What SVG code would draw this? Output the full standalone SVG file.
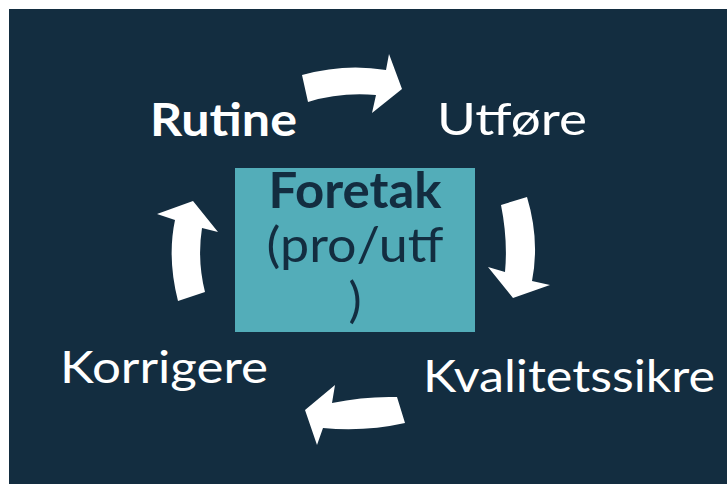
<svg xmlns="http://www.w3.org/2000/svg" width="727" height="485" viewBox="0 0 727 485">
  <style>
    .lbl { font-family: Lato, "Open Sans", "Liberation Sans", sans-serif; font-size: 45px; fill: #ffffff; }
    .bold { font-weight: bold; }
    .ctr { font-family: Lato, "Open Sans", "Liberation Sans", sans-serif; fill: #132d40; text-anchor: middle; }
    .arrow { fill: #ffffff; stroke: none; }
  </style>
  <rect x="0" y="0" width="727" height="485" fill="#ffffff"/>
  <rect id="background" x="9" y="9" width="718" height="475" fill="#132d40"/>

  <g id="connectors">
    <path class="arrow" d="M302,75 Q345,63 386,70 L389,54 L402,89 L372,113 L376,95 Q340,92 308,102 Z"/>
    <path class="arrow" d="M501,205 L527,197 Q540,240 532,281 L550,285 L513,298 L488,267 L505,272 Q508,240 501,205 Z"/>
    <path class="arrow" d="M397,397 Q365,396 332,403 L335,385 L305,410 L317,445 L323,428 Q365,432 405,423 Z"/>
    <path class="arrow" d="M178,301 Q167,258 175,220 L157,214 L193,201 L218,232 L202,228 Q197,260 205,292 Z"/>
  </g>

  <g id="node-foretak">
    <rect x="235" y="168" width="240" height="164" fill="#53adb9"/>
    <text class="ctr bold" x="355" y="208" font-size="49" textLength="173" lengthAdjust="spacingAndGlyphs">Foretak</text>
    <text class="ctr" x="355" y="262" font-size="49" textLength="177" lengthAdjust="spacingAndGlyphs">(pro/utf</text>
    <text class="ctr" x="355" y="317" font-size="49">)</text>
  </g>

  <g id="node-rutine">
    <text class="lbl bold" x="150" y="136" font-size="46" textLength="147" lengthAdjust="spacingAndGlyphs">Rutine</text>
  </g>
  <g id="node-utfore">
    <text class="lbl" x="437" y="135" textLength="150" lengthAdjust="spacingAndGlyphs">Utføre</text>
  </g>
  <g id="node-kvalitetssikre">
    <text class="lbl" x="423" y="392" textLength="292" lengthAdjust="spacingAndGlyphs">Kvalitetssikre</text>
  </g>
  <g id="node-korrigere">
    <text class="lbl" x="60" y="383" textLength="208" lengthAdjust="spacingAndGlyphs">Korrigere</text>
  </g>
</svg>
